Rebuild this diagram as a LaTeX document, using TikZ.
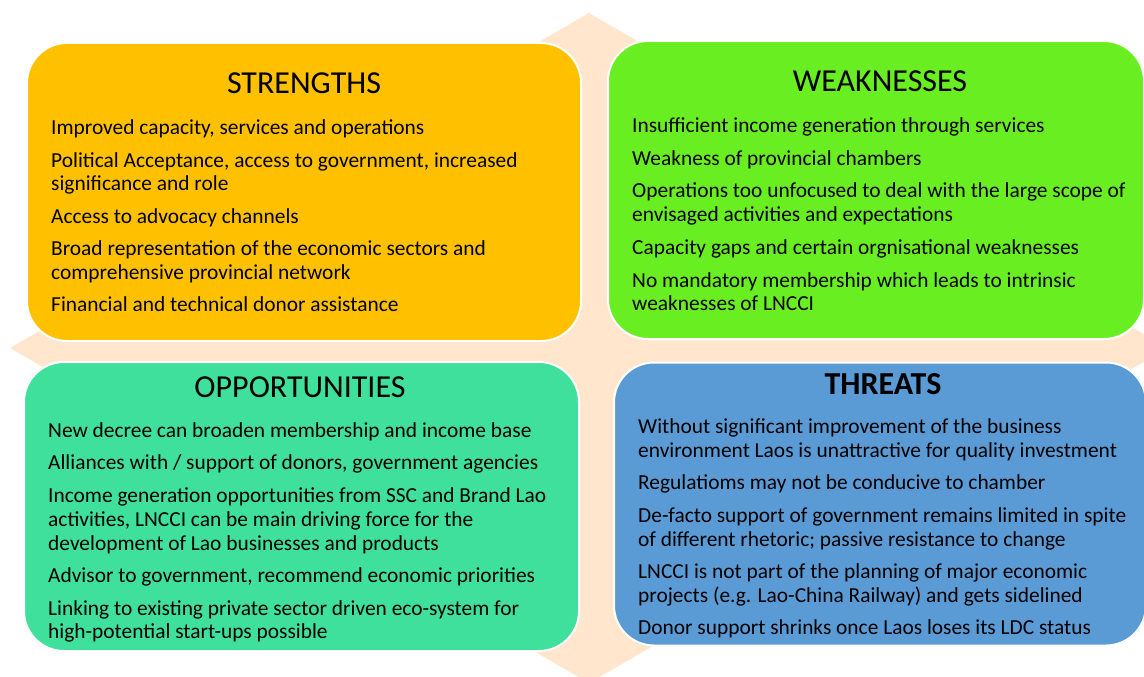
\documentclass[tikz,border=0pt]{standalone}
\usepackage{fontspec}
\setmainfont{Carlito}
\definecolor{cStr}{HTML}{FFC000}
\definecolor{cWeak}{HTML}{69EE22}
\definecolor{cOpp}{HTML}{3FE09B}
\definecolor{cThr}{HTML}{5B9BD5}
\definecolor{cBack}{HTML}{FFE6CC}
\begin{document}
\begin{tikzpicture}[x=1pt,y=-1pt,
  quad/.style={draw=white, line width=2pt, rounded corners=40pt, inner sep=0pt},
  title/.style={anchor=base, font=\fontsize{32}{38}\selectfont, inner sep=0pt},
  item/.style={anchor=base west, font=\fontsize{21.4}{24}\selectfont, inner sep=0pt}]
\useasboundingbox (0,0) rectangle (1144,677);
\clip (0,0) rectangle (1144,677);
% background diamond
\fill[cBack] (589,13) -- (10,348) -- (589,683) -- (1168,348) -- cycle;
% quadrants
\node[quad, fill=cStr,  minimum width=554pt, minimum height=298pt] (str)  at (304,192) {};
\node[quad, fill=cWeak, minimum width=536pt, minimum height=298pt] (weak) at (876,190) {};
\node[quad, fill=cOpp,  minimum width=555pt, minimum height=289pt] (opp)  at (301.5,506.5) {};
\node[quad, fill=cThr,  minimum width=532pt, minimum height=283pt] (thr)  at (880,504) {};

% strengths
\node[title] (strT) at (304,93) {STRENGTHS};
\node[item] (s1) at (51,134) {Improved capacity, services and operations};
\node[item] (s2) at (51,167) {Political Acceptance, access to government, increased};
\node[item] (s3) at (51,190) {significance and role};
\node[item] (s4) at (51,223) {Access to advocacy channels};
\node[item] (s5) at (51,255) {Broad representation of the economic sectors and};
\node[item] (s6) at (51,279) {comprehensive provincial network};
\node[item] (s7) at (51,311) {Financial and technical donor assistance};

% weaknesses
\node[title] (weakT) at (880,92) {WEAKNESSES};
\node[item] (w1) at (632,132) {Insufficient income generation through services};
\node[item] (w2) at (632,165) {Weakness of provincial chambers};
\node[item] (w3) at (632,197) {Operations too unfocused to deal with the large scope of};
\node[item] (w4) at (632,221) {envisaged activities and expectations};
\node[item] (w5) at (632,254) {Capacity gaps and certain orgnisational weaknesses};
\node[item] (w6) at (632,287) {No mandatory membership which leads to intrinsic};
\node[item] (w7) at (632,310) {weaknesses of LNCCI};

% opportunities
\node[title] (oppT) at (300,397) {OPPORTUNITIES};
\node[item] (o1) at (48,437) {New decree can broaden membership and income base};
\node[item] (o2) at (48,469) {Alliances with / support of donors, government agencies};
\node[item] (o3) at (48,502) {Income generation opportunities from SSC and Brand Lao};
\node[item] (o4) at (48,526) {activities, LNCCI can be main driving force for the};
\node[item] (o5) at (48,550) {development of Lao businesses and products};
\node[item] (o6) at (48,582) {Advisor to government, recommend economic priorities};
\node[item] (o7) at (48,615) {Linking to existing private sector driven eco-system for};
\node[item] (o8) at (48,638) {high-potential start-ups possible};

% threats
\node[title, font=\fontsize{32}{38}\selectfont\bfseries] (thrT) at (883,394) {THREATS};
\node[item] (t1) at (638,433) {Without significant improvement of the business};
\node[item] (t2) at (638,457) {environment Laos is unattractive for quality investment};
\node[item] (t3) at (638,489) {Regulatioms may not be conducive to chamber};
\node[item] (t4) at (638,522) {De-facto support of government remains limited in spite};
\node[item] (t5) at (638,546) {of different rhetoric; passive resistance to change};
\node[item] (t6) at (638,578) {LNCCI is not part of the planning of major economic};
\node[item] (t7) at (638,602) {projects (e.g. Lao-China Railway) and gets sidelined};
\node[item] (t8) at (638,634) {Donor support shrinks once Laos loses its LDC status};
\end{tikzpicture}
\end{document}
